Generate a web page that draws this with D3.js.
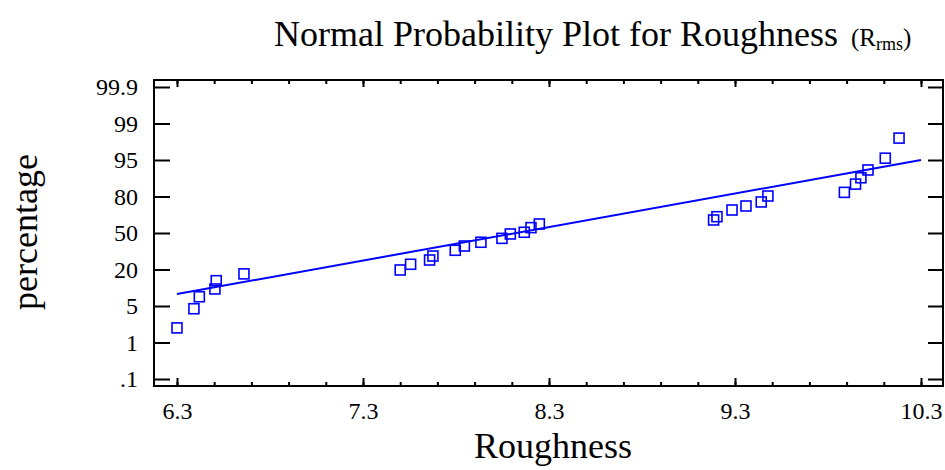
<!DOCTYPE html>
<html>
<head>
<meta charset="utf-8">
<script src="https://cdn.jsdelivr.net/npm/d3@7"></script>
<style>
  body { margin: 0; background: #fff; }
  svg text { font-family: "Liberation Serif", "Times New Roman", serif; fill: #000; }
</style>
</head>
<body>
<svg id="chart" width="945" height="470"></svg>
<script>
// roughness values (x) and their plotted percentages (y)
var roughness = [6.30, 6.391, 6.42, 6.504, 6.511, 6.66, 7.50, 7.556, 7.658, 7.676,
                 7.796, 7.845, 7.934, 8.047, 8.092, 8.167, 8.203, 8.248, 9.185, 9.203,
                 9.284, 9.359, 9.441, 9.477, 9.888, 9.948, 9.977, 10.015, 10.108, 10.182];
var percent = [2.6, 4.7, 8.8, 12.0, 15.4, 18.2, 19.8, 24.3, 27.8, 31.1,
               35.8, 39.3, 42.4, 45.6, 49.2, 50.6, 54.4, 57.4, 60.7, 63.4,
               68.9, 72.2, 75.5, 80.2, 81.7, 85.1, 87.7, 90.9, 95.2, 97.4];
// fitted line end points
var fitX = [6.3, 10.3];
var fitP = [9.9, 95];

var yTicks = [0.1, 1, 5, 20, 50, 80, 95, 99, 99.9];
var yTickLabels = [".1", "1", "5", "20", "50", "80", "95", "99", "99.9"];
var xMajor = [6.3, 7.3, 8.3, 9.3, 10.3];
var xMinor = d3.range(6.3, 10.31, 0.2).map(function(d){ return +d.toFixed(1); });

var svg = d3.select('#chart');
var L = 154, R = 943, T = 80, B = 386;

var x = d3.scaleLinear().domain([6.3, 10.3]).range([177, 921]);
// probability axis: tick labels are equally spaced
var yStep = 36.5, yBottom = 379;
var y = d3.scaleLinear()
          .domain(yTicks)
          .range(yTicks.map(function(d, i){ return yBottom - i * yStep; }));

// frame
svg.append('rect')
   .attr('x', L).attr('y', T)
   .attr('width', R - L).attr('height', B - T)
   .attr('fill', 'none').attr('stroke', '#000').attr('stroke-width', 2);

function styleAxis(g) {
    g.select('.domain').remove();
    g.selectAll('.tick line').attr('stroke', '#000').attr('stroke-width', 2);
    g.selectAll('.tick text').style('font-size', '24px').attr('fill', '#000')
     .style('font-family', '"Liberation Serif", serif');
}

// left axis with labels
svg.append('g').attr('transform', 'translate(' + L + ',0)')
   .call(d3.axisLeft(y).tickValues(yTicks).tickSize(-16).tickPadding(16)
         .tickFormat(function(d, i){ return yTickLabels[i]; }))
   .call(styleAxis);
// right axis ticks
svg.append('g').attr('transform', 'translate(' + R + ',0)')
   .call(d3.axisRight(y).tickValues(yTicks).tickSize(-15).tickFormat(''))
   .call(styleAxis);

// bottom axis
svg.append('g').attr('transform', 'translate(0,' + B + ')')
   .call(d3.axisBottom(x).tickValues(xMinor).tickSize(-4).tickFormat(''))
   .call(styleAxis);
svg.append('g').attr('transform', 'translate(0,' + B + ')')
   .call(d3.axisBottom(x).tickValues(xMajor).tickSize(-8).tickPadding(16)
         .tickFormat(d3.format('.1f')))
   .call(styleAxis);
// top axis
svg.append('g').attr('transform', 'translate(0,' + T + ')')
   .call(d3.axisTop(x).tickValues(xMinor).tickSize(-4).tickFormat(''))
   .call(styleAxis);
svg.append('g').attr('transform', 'translate(0,' + T + ')')
   .call(d3.axisTop(x).tickValues(xMajor).tickSize(-7).tickFormat(''))
   .call(styleAxis);

// fitted line
var fit = fitX.map(function(d, i){ return [d, fitP[i]]; });
svg.append('path')
   .datum(fit)
   .attr('d', d3.line().x(function(d){ return x(d[0]); }).y(function(d){ return y(d[1]); }))
   .attr('fill', 'none').attr('stroke', '#0000ff').attr('stroke-width', 2);

// points
var pts = roughness.map(function(d, i){ return [d, percent[i]]; });
svg.append('g').selectAll('rect')
   .data(pts).enter().append('rect')
   .attr('x', function(d){ return x(d[0]) - 5; })
   .attr('y', function(d){ return y(d[1]) - 5; })
   .attr('width', 10).attr('height', 10)
   .attr('fill', 'none').attr('stroke', '#0000ff').attr('stroke-width', 1.6);

// titles
svg.append('text')
   .attr('x', 556).attr('y', 46)
   .attr('text-anchor', 'middle')
   .style('font-size', '36px')
   .text('Normal Probability Plot for Roughness');
var sub = svg.append('text')
   .attr('x', 851).attr('y', 46)
   .style('font-size', '25px');
sub.append('tspan').text('(R');
sub.append('tspan').attr('dy', 4).style('font-size', '18px').text('rms');
sub.append('tspan').attr('dy', -4).text(')');

svg.append('text')
   .attr('x', 553).attr('y', 458)
   .attr('text-anchor', 'middle')
   .style('font-size', '36px')
   .text('Roughness');

svg.append('text')
   .attr('transform', 'translate(37,232) rotate(-90)')
   .attr('text-anchor', 'middle')
   .style('font-size', '36px')
   .text('percentage');
</script>
</body>
</html>
